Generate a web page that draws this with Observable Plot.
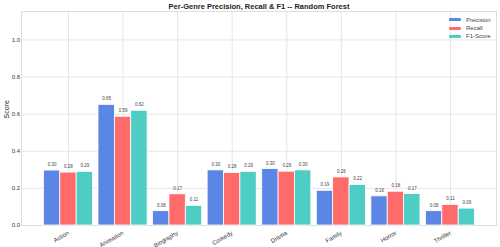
<!DOCTYPE html>
<html><head><meta charset="utf-8">
<script src="https://cdn.jsdelivr.net/npm/d3@7"></script>
<script src="https://cdn.jsdelivr.net/npm/@observablehq/plot@0.6"></script>
<style>
body{margin:0;background:#fff;}
#wrap{position:relative;width:500px;height:247px;font-family:"Liberation Sans",Arial,sans-serif;}
.lg{position:absolute;left:449px;font-size:6px;color:#444;line-height:8px;}
.lg span{display:inline-block;width:12px;height:3px;margin-right:5px;vertical-align:middle;border-radius:1px;}
</style></head><body><div id="wrap"></div>
<script>
const genres = ["Action","Animation","Biography","Comedy","Drama","Family","Horror","Thriller"];
const metrics = ["Precision","Recall","F1-Score"];
const precision = [0.296, 0.650, 0.077, 0.297, 0.304, 0.187, 0.157, 0.077];
const recall    = [0.285, 0.586, 0.168, 0.283, 0.290, 0.259, 0.182, 0.111];
const f1        = [0.289, 0.618, 0.106, 0.289, 0.297, 0.218, 0.169, 0.091];
const colors = ["#5B86E5","#FF6B6B","#4ECDC4"];
const yTicks = [0, 0.2, 0.4, 0.6, 0.8, 1.0];
const title = "Per-Genre Precision, Recall & F1 -- Random Forest";
const yLabel = "Score";

const series = [precision, recall, f1];
const barW = 0.3;
const rows = [];
genres.forEach((g, i) => series.forEach((vals, k) => {
  const c = i + (k - 1) * barW;
  rows.push({i, genre: g, metric: metrics[k], value: vals[i], x1: c - barW / 2, x2: c + barW / 2, xc: c});
}));
const idx = d3.range(genres.length);
const font = '"Liberation Sans", Arial, sans-serif';

const plot = Plot.plot({
  width: 500, height: 247,
  marginLeft: 21, marginRight: 4, marginTop: 11, marginBottom: 22,
  style: {fontFamily: font, background: "white", overflow: "visible"},
  x: {domain: [-0.861, 7.843], axis: null},
  y: {domain: [0, 1.153], axis: null},
  color: {domain: metrics, range: colors},
  marks: [
    Plot.gridX(idx, {stroke: "#e6e6e6", strokeOpacity: 1, strokeWidth: 1}),
    Plot.gridY(yTicks, {stroke: "#e6e6e6", strokeOpacity: 1, strokeWidth: 1}),
    Plot.frame({stroke: "#dddddd", strokeWidth: 1}),
    Plot.rect(rows, {x1: "x1", x2: "x2", y1: 0, y2: "value", fill: "metric", stroke: "white", strokeWidth: 0.8}),
    Plot.text(rows, {x: "xc", y: "value", text: d => d.value.toFixed(2), dy: -6, fontSize: 4.5, fill: "#444"}),
    Plot.text(idx, {x: d => d, frameAnchor: "bottom", dy: 7, text: d => genres[d], rotate: -30, textAnchor: "end", lineAnchor: "middle", fontSize: 6, fill: "#333"}),
    Plot.text(yTicks, {y: d => d, frameAnchor: "left", dx: -1.5, text: d => d.toFixed(1), textAnchor: "end", fontSize: 6, fill: "#333"}),
    Plot.text([yLabel], {frameAnchor: "left", dx: -15, rotate: -90, fontSize: 7, fill: "#222"}),
    Plot.text([title], {frameAnchor: "top", dy: -5, lineAnchor: "middle", fontWeight: "bold", fontSize: 7.5, fill: "#222"})
  ]
});
const wrap = document.getElementById("wrap");
wrap.appendChild(plot);
metrics.forEach((m, k) => {
  const d = document.createElement("div");
  d.className = "lg";
  d.style.top = (15.5 + k * 8.3) + "px";
  d.innerHTML = `<span style="background:${colors[k]}"></span>${m}`;
  wrap.appendChild(d);
});
</script></body></html>
